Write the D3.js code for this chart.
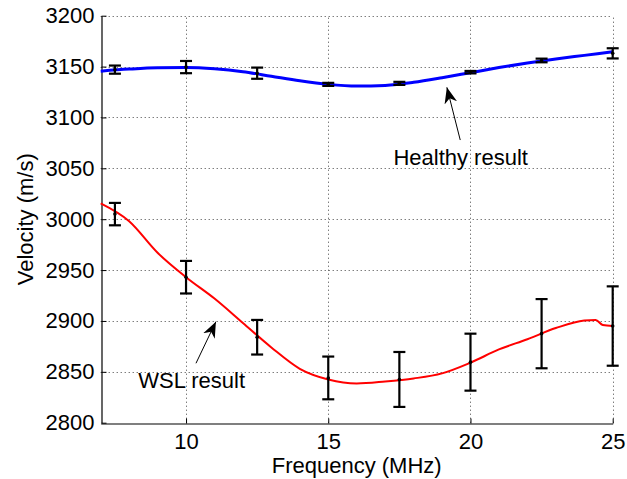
<!DOCTYPE html>
<html>
<head>
<meta charset="utf-8">
<script src="https://cdn.jsdelivr.net/npm/d3@7"></script>
<style>
  body { margin: 0; background: #fff; }
  text { font-family: Arial, "Liberation Sans", sans-serif; }
</style>
</head>
<body>
<svg width="627" height="479"></svg>
<script>
// line samples
var lineFreq   = [7, 8, 9, 10, 11, 12, 13, 14, 15, 16, 17, 18, 19, 20, 21, 22, 23, 24, 25]
var healthyLine = [3145.5, 3147.5, 3148.8, 3149, 3147.8, 3145, 3140.5, 3136, 3132.5, 3130.8, 3131.5, 3134.5, 3139, 3144, 3149, 3153.5, 3157.5, 3161, 3164.5]
var wslFreq = [7, 8, 9, 10, 11, 12, 13, 14, 15, 16, 17, 18, 19, 20, 21, 22, 23, 24, 24.4, 24.65, 25]
var wslLine = [3015.5, 2998, 2967, 2943, 2922, 2898, 2874, 2853, 2842.5, 2838.5, 2840.5, 2843.5, 2848.5, 2859, 2872, 2882, 2893, 2900.5, 2901, 2896, 2895]

// error bars
var barFreq = [7.5, 10, 12.5, 15, 17.5, 20, 22.5, 25]
var healthyMean = [3147, 3149.5, 3143.5, 3132.5, 3133.5, 3144.5, 3156, 3163]
var healthyErr  = [4, 6, 5.5, 1.5, 1.5, 1.2, 1.8, 5]
var wslMean = [3005, 2943, 2884, 2844, 2842.5, 2859.5, 2887.5, 2895]
var wslErr  = [11, 16, 17, 21, 27, 28, 34, 39]

var xTicks = [10, 15, 20, 25]
var yTicks = [2800, 2850, 2900, 2950, 3000, 3050, 3100, 3150, 3200]

var svg = d3.select("svg"),
    width = +svg.attr("width"),
    height = +svg.attr("height");
var margin = {top: 15.7, right: 14.3, bottom: 56.3, left: 100.7}

var x = d3.scaleLinear().domain([7, 25]).range([margin.left, width - margin.right])
var y = d3.scaleLinear().domain([2800, 3200]).range([height - margin.bottom, margin.top])

// grid (dotted)
var grid = svg.append("g")
grid.selectAll("vline")
  .data(xTicks)
  .enter()
  .append("line")
    .attr("x1", function(d){ return Math.round(x(d)) + 0.5 })
    .attr("x2", function(d){ return Math.round(x(d)) + 0.5 })
    .attr("y1", y(2800))
    .attr("y2", y(3200))
    .attr("stroke", "#444")
    .attr("stroke-width", 1)
    .style("stroke-dasharray", "1,3")
grid.selectAll("hline")
  .data(yTicks.filter(function(d){ return d > 2800 }))
  .enter()
  .append("line")
    .attr("x1", x(7))
    .attr("x2", x(25))
    .attr("y1", function(d){ return Math.round(y(d)) + 0.5 })
    .attr("y2", function(d){ return Math.round(y(d)) + 0.5 })
    .attr("stroke", "#444")
    .attr("stroke-width", 1)
    .style("stroke-dasharray", "1,3")

// axes
var xAxis = svg.append("g")
  .attr("transform", "translate(0," + (Math.round(y(2800)) + 0.5) + ")")
  .call(d3.axisBottom(x).tickValues(xTicks).tickFormat(d3.format("d")).tickSizeInner(-5).tickSizeOuter(0).tickPadding(10))
var yAxis = svg.append("g")
  .attr("transform", "translate(" + (Math.round(x(7)) + 0.5) + ",0)")
  .call(d3.axisLeft(y).tickValues(yTicks).tickFormat(d3.format("d")).tickSizeInner(-5).tickSizeOuter(0).tickPadding(7))
svg.selectAll(".domain").attr("stroke", "#000").attr("stroke-width", 1.2)
svg.selectAll(".tick line").attr("stroke", "#000")
svg.selectAll(".tick text").style("font-size", "22px").attr("fill", "#000")
  .style("font-family", "Arial, 'Liberation Sans', sans-serif")

// axis labels
svg.append("text")
  .attr("x", (x(7) + x(25)) / 2)
  .attr("y", 473)
  .attr("text-anchor", "middle")
  .style("font-size", "22px")
  .text("Frequency (MHz)")
svg.append("text")
  .attr("transform", "translate(33," + ((y(2800) + y(3200)) / 2) + ") rotate(-90)")
  .attr("text-anchor", "middle")
  .style("font-size", "22px")
  .text("Velocity (m/s)")

// curves
var healthyPts = lineFreq.map(function(f, i){ return [f, healthyLine[i]] })
var wslPts = wslFreq.map(function(f, i){ return [f, wslLine[i]] })
var line = d3.line()
  .x(function(d){ return x(d[0]) })
  .y(function(d){ return y(d[1]) })
  .curve(d3.curveMonotoneX)

svg.append("path")
  .datum(healthyPts)
  .attr("d", line)
  .attr("fill", "none")
  .attr("stroke", "#0000ff")
  .attr("stroke-width", 3)
svg.append("path")
  .datum(wslPts)
  .attr("d", line)
  .attr("fill", "none")
  .attr("stroke", "#ff0000")
  .attr("stroke-width", 2)

// error bars
function errorBars(means, errs) {
  var data = barFreq.map(function(f, i){ return {f: f, m: means[i], e: errs[i]} })
  var g = svg.append("g").attr("stroke", "#000").attr("stroke-width", 2.2)
  g.selectAll("v").data(data).enter().append("line")
    .attr("x1", function(d){ return x(d.f) })
    .attr("x2", function(d){ return x(d.f) })
    .attr("y1", function(d){ return y(d.m - d.e) })
    .attr("y2", function(d){ return y(d.m + d.e) })
  g.selectAll("top").data(data).enter().append("line")
    .attr("x1", function(d){ return x(d.f) - 6 })
    .attr("x2", function(d){ return x(d.f) + 6 })
    .attr("y1", function(d){ return y(d.m + d.e) })
    .attr("y2", function(d){ return y(d.m + d.e) })
  g.selectAll("bot").data(data).enter().append("line")
    .attr("x1", function(d){ return x(d.f) - 6 })
    .attr("x2", function(d){ return x(d.f) + 6 })
    .attr("y1", function(d){ return y(d.m - d.e) })
    .attr("y2", function(d){ return y(d.m - d.e) })
  svg.append("g").selectAll("c").data(data).enter().append("circle")
    .attr("cx", function(d){ return x(d.f) })
    .attr("cy", function(d){ return y(d.m) })
    .attr("r", 1.8)
    .attr("fill", "#000")
}
errorBars(healthyMean, healthyErr)
errorBars(wslMean, wslErr)

// annotations (in data units)
var notes = [
  {label: "Healthy result", tx: 17.29, ty: 3053.3, from: [19.64, 3077.8], to: [19.17, 3129.6]},
  {label: "WSL result", tx: 8.32, ty: 2833.8, from: [10.35, 2858.4], to: [11.05, 2899.3]}
]
svg.append("defs").append("marker")
  .attr("id", "arrow")
  .attr("viewBox", "0 0 10 10")
  .attr("refX", 10).attr("refY", 5)
  .attr("markerWidth", 16).attr("markerHeight", 16)
  .attr("markerUnits", "userSpaceOnUse")
  .attr("orient", "auto")
  .append("path")
    .attr("d", "M0,1 L10,5 L0,9 L3,5 Z")
    .attr("fill", "#000")

notes.forEach(function(n){
  svg.append("line")
    .attr("x1", x(n.from[0])).attr("y1", y(n.from[1]))
    .attr("x2", x(n.to[0])).attr("y2", y(n.to[1]))
    .attr("stroke", "#000")
    .attr("stroke-width", 1)
    .attr("marker-end", "url(#arrow)")
  svg.append("text")
    .attr("x", x(n.tx))
    .attr("y", y(n.ty))
    .style("font-size", "22px")
    .text(n.label)
})
</script>
</body>
</html>
